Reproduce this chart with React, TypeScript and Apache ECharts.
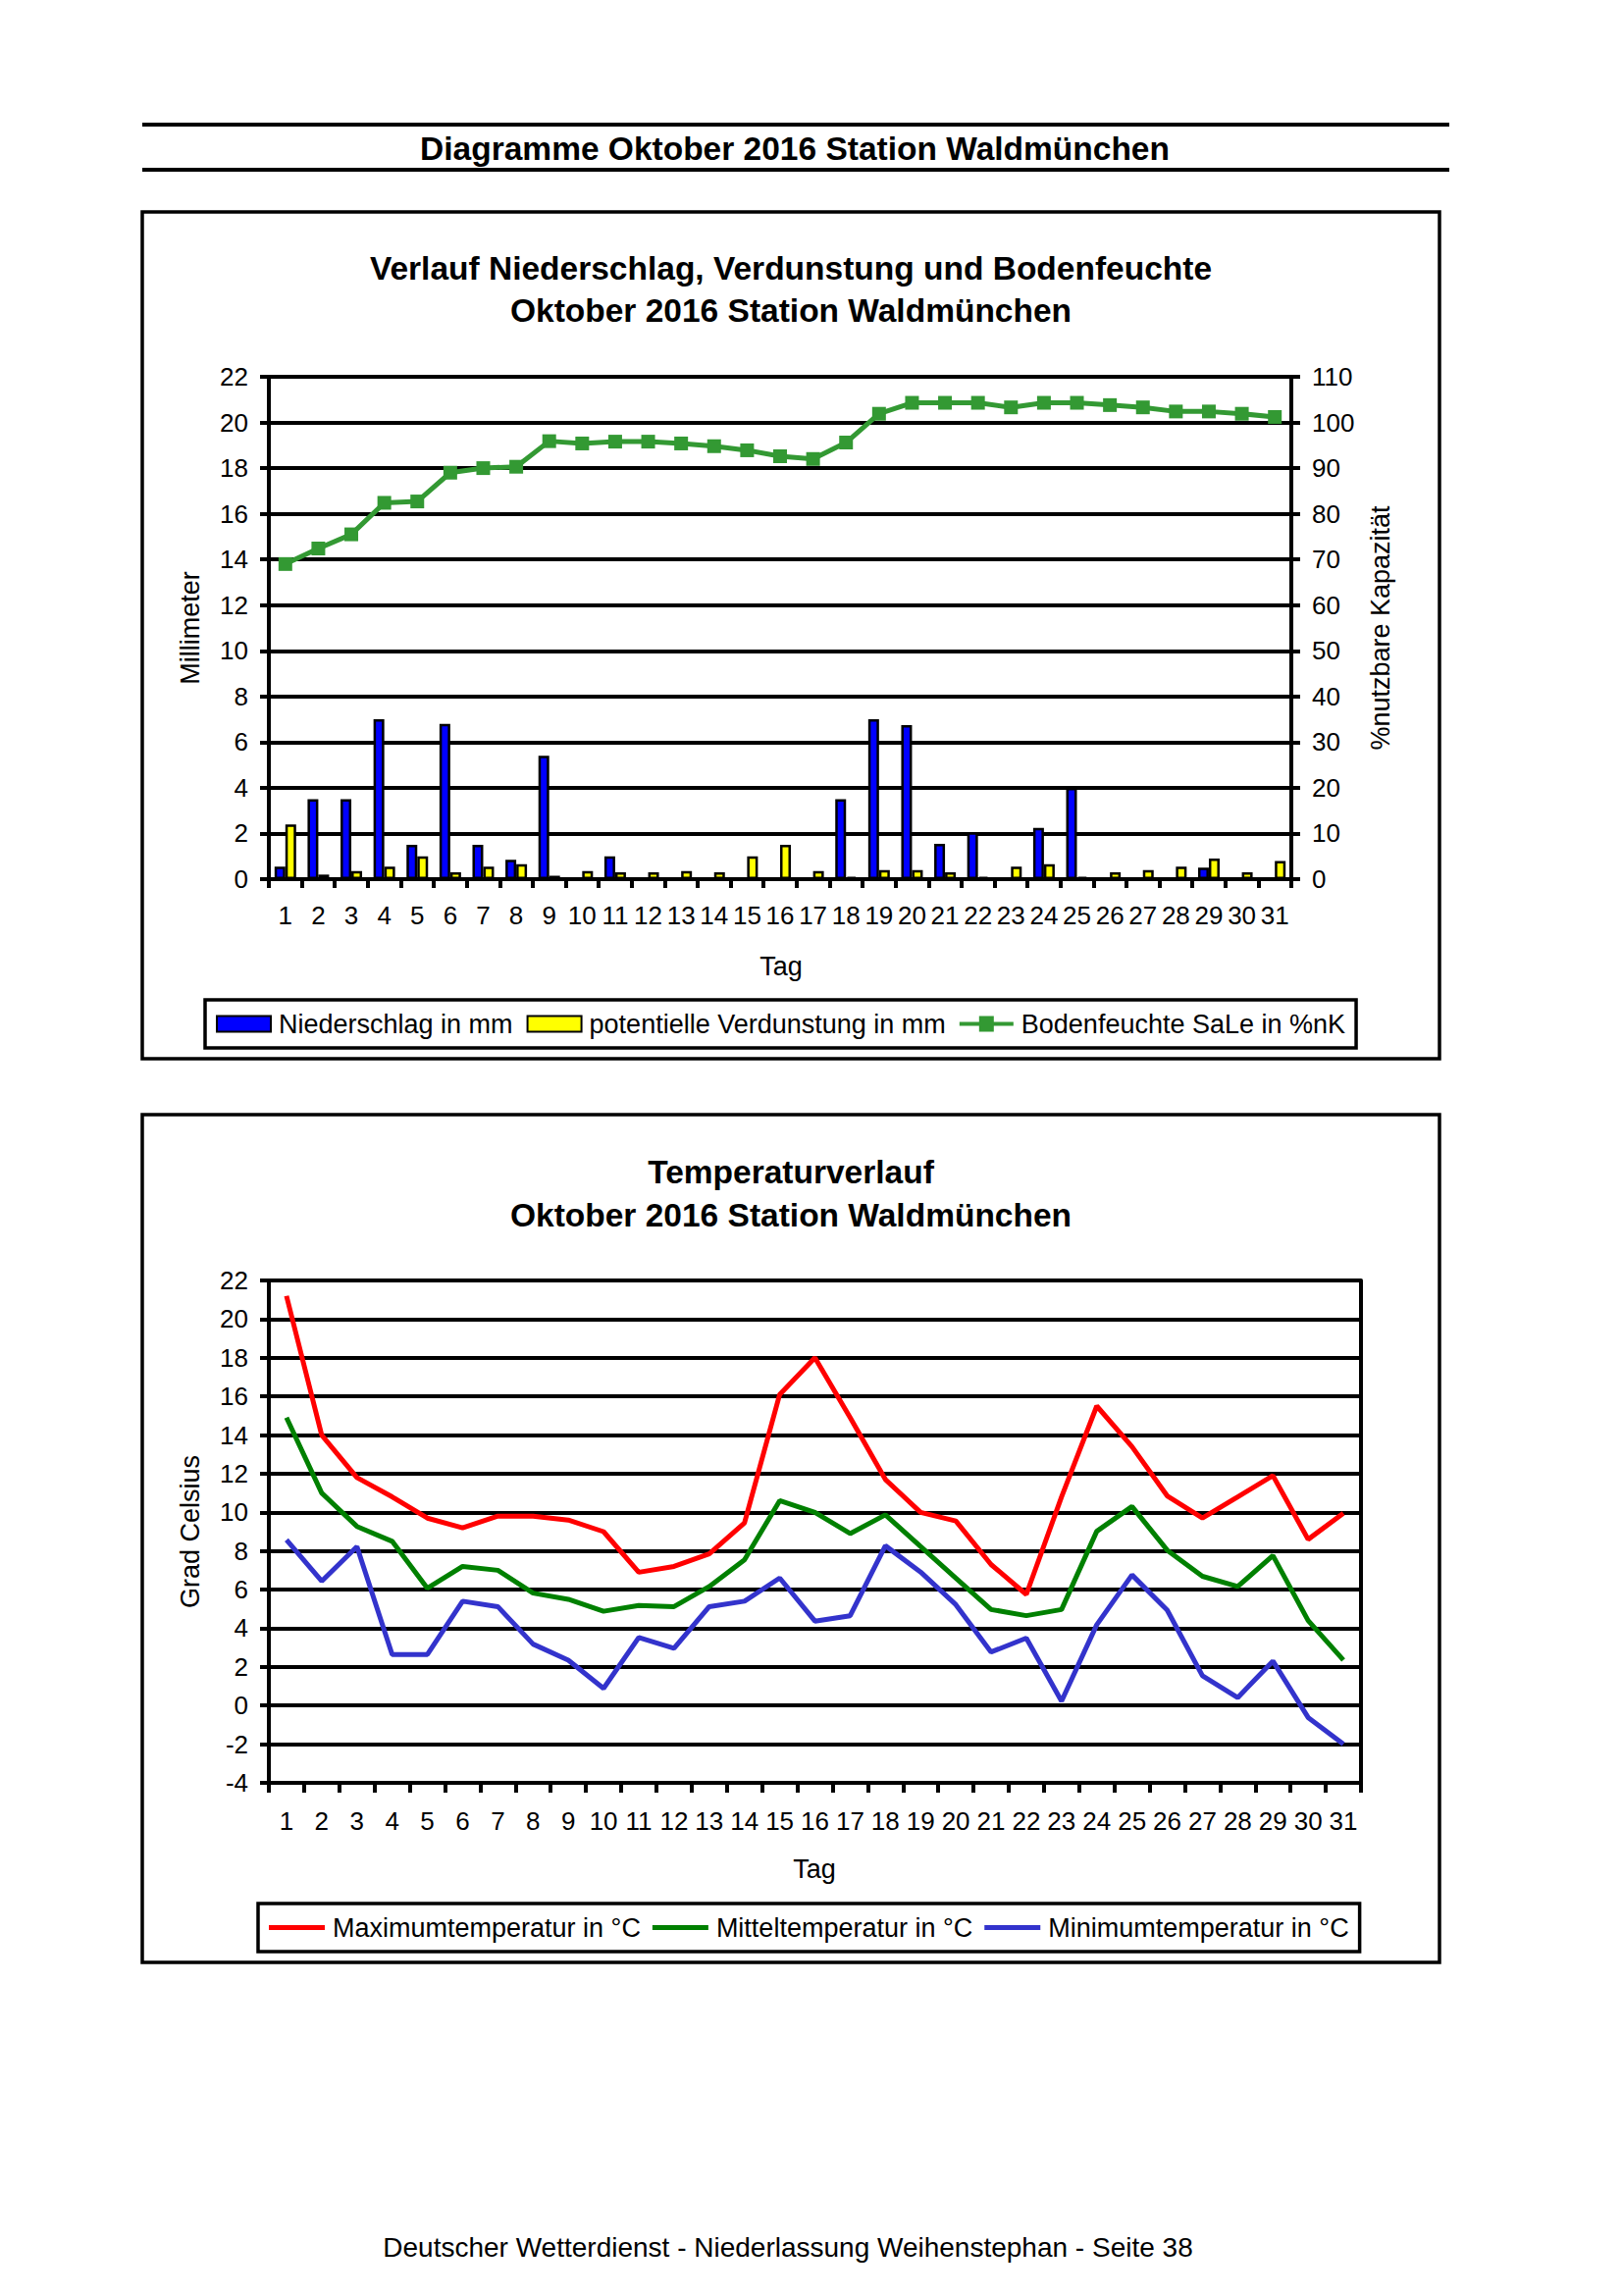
import React, { useEffect, useRef } from "react";
import * as echarts from "echarts";

const tage = ["1","2","3","4","5","6","7","8","9","10","11","12","13","14","15","16","17","18","19","20","21","22","23","24","25","26","27","28","29","30","31"];

const niederschlag = [0.55,3.5,3.5,7.0,1.5,6.8,1.5,0.85,5.4,0,1.0,0,0,0,0,0,0,3.5,7.0,6.75,1.55,2.05,0,2.25,4.0,0,0,0,0.5,0,0];
const verdunstung = [2.4,0.2,0.35,0.55,1.0,0.3,0.55,0.65,0.15,0.35,0.3,0.3,0.35,0.3,1.0,1.5,0.35,0.1,0.4,0.4,0.3,0.1,0.55,0.65,0.1,0.3,0.4,0.55,0.9,0.3,0.8];
const bodenfeuchte = [69,72.4,75.5,82.4,82.7,89,90,90.3,95.9,95.4,95.8,95.8,95.4,94.8,93.9,92.6,92,95.6,101.9,104.3,104.3,104.3,103.3,104.3,104.3,103.8,103.3,102.4,102.4,101.9,101.2];

const tMax = [21.2,14.0,11.8,10.8,9.7,9.2,9.8,9.8,9.6,9.0,6.9,7.2,7.85,9.45,16.1,18.0,14.9,11.7,10.0,9.55,7.3,5.75,10.8,15.5,13.4,10.85,9.7,10.8,11.9,8.6,9.95];
const tMittel = [14.9,11.0,9.27,8.5,6.07,7.2,7.0,5.82,5.5,4.88,5.18,5.12,6.16,7.54,10.6,10.0,8.9,9.87,8.23,6.6,4.97,4.65,4.97,9.02,10.3,8.04,6.69,6.16,7.76,4.4,2.35];
const tMin = [8.57,6.44,8.23,2.64,2.64,5.4,5.12,3.18,2.35,0.89,3.52,2.96,5.12,5.4,6.6,4.37,4.65,8.27,6.91,5.22,2.77,3.49,0.23,4.18,6.76,4.94,1.54,0.41,2.3,-0.62,-2.0];

const FONT = "'Liberation Sans', Arial, sans-serif";
const LINE_MARKER_ICON = "path://M0,6 L20,6 L20,0 L35,0 L35,6 L55,6 L55,10 L35,10 L35,16 L20,16 L20,10 L0,10 Z";

export default function App() {
  const ref = useRef<HTMLDivElement>(null);
  useEffect(() => {
    document.body.style.margin = "0";
    const chart = echarts.init(ref.current!, null, { renderer: "svg" });
    const axisLineStyle = { color: "#000", width: 4 };
    const tickLabel = { color: "#000", fontSize: 26, fontFamily: FONT };
    const txt = (text: string, x: number, y: number, size: number, bold = false, rotation = 0) => ({
      type: "text",
      x,
      y,
      rotation,
      style: {
        text,
        fill: "#000",
        fontSize: size,
        fontWeight: bold ? "bold" : "normal",
        fontFamily: FONT,
        align: "center",
        verticalAlign: "middle",
      },
    });
    const option: any = {
      animation: false,
      backgroundColor: "#fff",
      graphic: [
        { type: "line", shape: { x1: 145, y1: 127, x2: 1477, y2: 127 }, style: { stroke: "#000", lineWidth: 4 } },
        { type: "line", shape: { x1: 145, y1: 173, x2: 1477, y2: 173 }, style: { stroke: "#000", lineWidth: 4 } },
        txt("Diagramme Oktober 2016 Station Waldmünchen", 810, 151, 33.5, true),
        { type: "rect", shape: { x: 145, y: 216, width: 1322, height: 863 }, style: { fill: "none", stroke: "#000", lineWidth: 3.5 } },
        { type: "rect", shape: { x: 145, y: 1136, width: 1322, height: 864 }, style: { fill: "none", stroke: "#000", lineWidth: 3.5 } },
        txt("Verlauf Niederschlag, Verdunstung und Bodenfeuchte", 806, 273, 33.5, true),
        txt("Oktober 2016 Station Waldmünchen", 806, 316, 33.5, true),
        txt("Temperaturverlauf", 806, 1194, 33.5, true),
        txt("Oktober 2016 Station Waldmünchen", 806, 1238, 33.5, true),
        txt("Millimeter", 194, 640, 27, false, Math.PI / 2),
        txt("%nutzbare Kapazität", 1407, 640, 27, false, Math.PI / 2),
        txt("Grad Celsius", 194, 1561, 27, false, Math.PI / 2),
        txt("Tag", 796, 985, 27),
        txt("Tag", 830, 1905, 27),
        txt("Deutscher Wetterdienst - Niederlassung Weihenstephan - Seite 38", 803, 2290, 28),
      ],
      grid: [
        { left: 274, top: 384, width: 1042, height: 512 },
        { left: 274, top: 1305, width: 1113, height: 512 },
      ],
      legend: [
        {
          left: 209,
          top: 1019,
          padding: [11, 11, 11, 11],
          itemGap: 14,
          itemWidth: 55,
          itemHeight: 16,
          borderColor: "#000",
          borderWidth: 3.5,
          textStyle: { fontSize: 27, color: "#000", fontFamily: FONT, padding: [0, 0, 0, 3] },
          data: [
            { name: "Niederschlag in mm", icon: "rect" },
            { name: "potentielle Verdunstung in mm", icon: "rect" },
            { name: "Bodenfeuchte SaLe in %nK", icon: LINE_MARKER_ICON },
          ],
        },
        {
          left: 263,
          top: 1940,
          padding: [11, 11, 11, 11],
          itemGap: 12,
          itemWidth: 57,
          itemHeight: 5,
          icon: "rect",
          borderColor: "#000",
          borderWidth: 3.5,
          textStyle: { fontSize: 27, color: "#000", fontFamily: FONT, padding: [0, 0, 0, 3] },
          data: ["Maximumtemperatur in °C", "Mitteltemperatur in °C", "Minimumtemperatur in °C"],
        },
      ],
      xAxis: [
        {
          type: "category",
          gridIndex: 0,
          data: tage,
          boundaryGap: true,
          axisLine: { onZero: false, lineStyle: axisLineStyle },
          axisTick: { show: true, length: 9, lineStyle: axisLineStyle, interval: 0 },
          axisLabel: { ...tickLabel, interval: 0, margin: 24, hideOverlap: false },
        },
        {
          type: "category",
          gridIndex: 1,
          data: tage,
          boundaryGap: true,
          axisLine: { onZero: false, lineStyle: axisLineStyle },
          axisTick: { show: true, length: 10, lineStyle: axisLineStyle, interval: 0 },
          axisLabel: { ...tickLabel, interval: 0, margin: 26, hideOverlap: false },
        },
      ],
      yAxis: [
        {
          type: "value",
          gridIndex: 0,
          position: "left",
          min: 0,
          max: 22,
          interval: 2,
          axisLine: { show: true, lineStyle: axisLineStyle },
          axisTick: { show: true, length: 9, lineStyle: axisLineStyle },
          axisLabel: { ...tickLabel, margin: 21 },
          splitLine: { show: true, lineStyle: { color: "#000", width: 4 } },
        },
        {
          type: "value",
          gridIndex: 0,
          position: "right",
          min: 0,
          max: 110,
          interval: 10,
          axisLine: { show: true, lineStyle: axisLineStyle },
          axisTick: { show: true, length: 9, lineStyle: axisLineStyle },
          axisLabel: { ...tickLabel, margin: 21 },
          splitLine: { show: false },
        },
        {
          type: "value",
          gridIndex: 1,
          position: "left",
          min: -4,
          max: 22,
          interval: 2,
          axisLine: { show: true, lineStyle: axisLineStyle },
          axisTick: { show: true, length: 9, lineStyle: axisLineStyle },
          axisLabel: { ...tickLabel, margin: 21 },
          splitLine: { show: true, lineStyle: { color: "#000", width: 4 } },
        },
        {
          type: "value",
          gridIndex: 1,
          position: "right",
          min: -4,
          max: 22,
          interval: 2,
          axisLine: { show: true, lineStyle: axisLineStyle },
          axisTick: { show: false },
          axisLabel: { show: false },
          splitLine: { show: false },
        },
      ],
      series: [
        {
          name: "Niederschlag in mm",
          type: "bar",
          xAxisIndex: 0,
          yAxisIndex: 0,
          data: niederschlag,
          barWidth: 11,
          barGap: "0%",
          itemStyle: { color: "#0000FF", borderColor: "#000", borderWidth: 2.5 },
        },
        {
          name: "potentielle Verdunstung in mm",
          type: "bar",
          xAxisIndex: 0,
          yAxisIndex: 0,
          data: verdunstung,
          barWidth: 11,
          barGap: "0%",
          itemStyle: { color: "#FFFF00", borderColor: "#000", borderWidth: 2.5 },
        },
        {
          name: "Bodenfeuchte SaLe in %nK",
          type: "line",
          xAxisIndex: 0,
          yAxisIndex: 1,
          data: bodenfeuchte,
          symbol: "rect",
          symbolSize: 14,
          lineStyle: { color: "#339933", width: 5 },
          itemStyle: { color: "#339933" },
          z: 5,
        },
        {
          name: "Maximumtemperatur in °C",
          type: "line",
          xAxisIndex: 1,
          yAxisIndex: 2,
          data: tMax,
          symbol: "none",
          lineStyle: { color: "#FF0000", width: 5 },
          itemStyle: { color: "#FF0000" },
        },
        {
          name: "Mitteltemperatur in °C",
          type: "line",
          xAxisIndex: 1,
          yAxisIndex: 2,
          data: tMittel,
          symbol: "none",
          lineStyle: { color: "#008000", width: 5 },
          itemStyle: { color: "#008000" },
        },
        {
          name: "Minimumtemperatur in °C",
          type: "line",
          xAxisIndex: 1,
          yAxisIndex: 2,
          data: tMin,
          symbol: "none",
          lineStyle: { color: "#3333CC", width: 5 },
          itemStyle: { color: "#3333CC" },
        },
      ],
    };
    chart.setOption(option);
    return () => chart.dispose();
  }, []);
  return (
    <div
      ref={ref}
      style={{ position: "absolute", left: 0, top: 0, width: 1653, height: 2340, background: "#fff" }}
    />
  );
}
